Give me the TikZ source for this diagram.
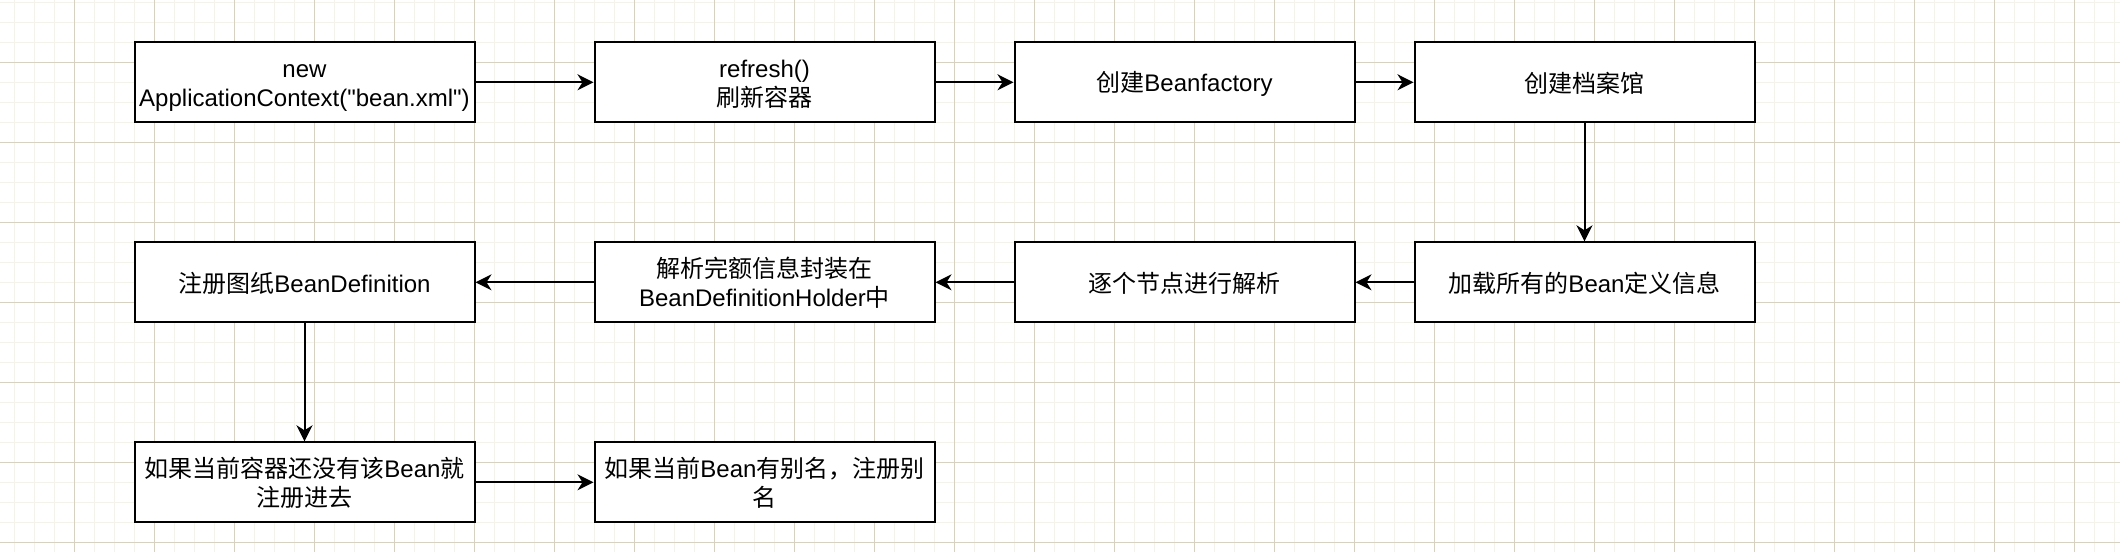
\documentclass[tikz,border=0pt]{standalone}
\usepackage{fontspec}
\setmainfont{Liberation Sans}[Ligatures=TeXOff]
\newfontfamily\cjk{Noto Sans CJK SC}
\usetikzlibrary{arrows.meta}
\newcommand\puntal{\rule[-2pt]{0pt}{14pt}}

\begin{document}
\begin{tikzpicture}[x=0.5pt,y=-0.5pt,
        caja/.style={draw,line width=1pt,fill=white,minimum width=170pt,minimum height=40pt,
            inner sep=1pt,align=center,font=\fontsize{12}{14.6}\selectfont,
            execute at begin node=\puntal},
        flecha/.style={line width=1pt,-{Stealth[length=8pt,width=8pt,inset=2.5pt]}}]
        %colores
        \definecolor{rejillafina}{RGB}{243,243,236}
        \definecolor{rejilla}{RGB}{214,209,192}

        \useasboundingbox (0,0) rectangle (2120,552);
        \fill[white] (0,0) rectangle (2120,552);

        % Rejilla
        \foreach \x in {0,...,105}
        \draw[rejillafina,line width=0.6pt] (14.5+20*\x,0) -- (14.5+20*\x,552);
        \foreach \y in {0,...,27}
        \draw[rejillafina,line width=0.6pt] (0,2.3+20*\y) -- (2120,2.3+20*\y);
        \foreach \x in {0,...,25}
        \draw[rejilla,line width=0.4pt] (74.5+80*\x,0) -- (74.5+80*\x,552);
        \foreach \y in {0,...,6}
        \draw[rejilla,line width=0.4pt] (0,62.3+80*\y) -- (2120,62.3+80*\y);

        % Cajas, fila 1
        \node[caja] (new) at (304.5,82.3) {\puntal new\\\puntal ApplicationContext("bean.xml")};
        \node[caja] (refresh) at (764.5,82.3) {\puntal refresh()\\\puntal{\cjk 刷新容器}};
        \node[caja] (factory) at (1184.5,82.3) {{\cjk 创建}Beanfactory};
        \node[caja] (archivo) at (1584.5,82.3) {{\cjk 创建档案馆}};
        % fila 2
        \node[caja] (cargar) at (1584.5,282.3) {{\cjk 加载所有的}Bean{\cjk 定义信息}};
        \node[caja] (nodos) at (1184.5,282.3) {{\cjk 逐个节点进行解析}};
        \node[caja] (holder) at (764.5,282.3) {\puntal{\cjk 解析完额信息封装在}\\\puntal BeanDefinitionHolder{\cjk 中}};
        \node[caja] (registro) at (304.5,282.3) {{\cjk 注册图纸}BeanDefinition};
        % fila 3
        \node[caja] (contenedor) at (304.5,482.3) {\puntal{\cjk 如果当前容器还没有该}Bean{\cjk 就}\\\puntal{\cjk 注册进去}};
        \node[caja] (alias) at (764.5,482.3) {\puntal{\cjk 如果当前}Bean{\cjk 有别名，注册别}\\\puntal{\cjk 名}};

        % Flechas
        \foreach \a/\b in {new/refresh,refresh/factory,factory/archivo,archivo/cargar,
            cargar/nodos,nodos/holder,holder/registro,registro/contenedor,contenedor/alias}
        \draw[flecha] (\a) -- (\b);
    \end{tikzpicture}
\end{document}
